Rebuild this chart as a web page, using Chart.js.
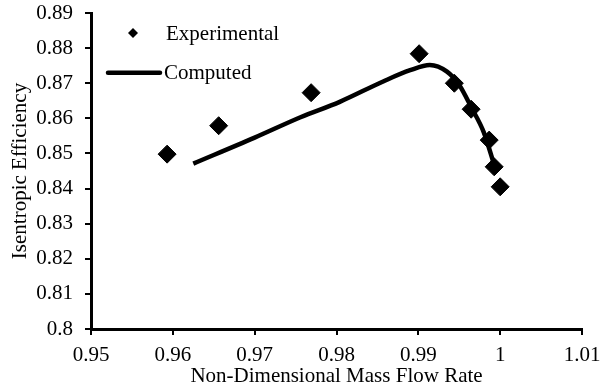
<!DOCTYPE html>
<html>
<head>
<meta charset="utf-8">
<script src="https://cdn.jsdelivr.net/npm/chart.js@4.4.0/dist/chart.umd.min.js"></script>
<style>
html,body{margin:0;padding:0;background:#fff;}
#wrap{width:607px;height:389px;position:relative;}
</style>
</head>
<body>
<div id="wrap"><canvas id="c" width="607" height="389"></canvas></div>
<script>
// Experimental data
const expX = [0.9593, 0.9656, 0.9769, 0.9901, 0.9944, 0.99645, 0.99866, 0.99927, 1.0000];
const expY = [0.8498, 0.8579, 0.8673, 0.8784, 0.8700, 0.8626, 0.8538, 0.8462, 0.8405];
// Computed curve
const compX = [0.9625, 0.9700, 0.9756, 0.9804, 0.9857, 0.9890, 0.9914, 0.9935, 0.9950, 0.9965, 0.9980, 0.9993];
const compY = [0.8471, 0.8545, 0.8603, 0.8647, 0.8705, 0.8737, 0.8752, 0.8733, 0.8695, 0.8630, 0.8560, 0.8465];
// Tick labels
const xTickValues = [0.95, 0.96, 0.97, 0.98, 0.99, 1.00, 1.01];
const xTickLabels = ["0.95", "0.96", "0.97", "0.98", "0.99", "1", "1.01"];
const yTickValues = [0.80, 0.81, 0.82, 0.83, 0.84, 0.85, 0.86, 0.87, 0.88, 0.89];
const yTickLabels = ["0.8", "0.81", "0.82", "0.83", "0.84", "0.85", "0.86", "0.87", "0.88", "0.89"];
const seriesNames = ["Experimental", "Computed"];

const FONT = "'Liberation Serif', 'Times New Roman', serif";

const legendPlugin = {
  id: 'insideLegend',
  afterDraw(chart) {
    const ctx = chart.ctx;
    ctx.save();
    ctx.fillStyle = '#000';
    ctx.strokeStyle = '#000';
    // diamond
    const dx = 133, dy = 33, r = 5;
    ctx.beginPath();
    ctx.moveTo(dx - r, dy); ctx.lineTo(dx, dy - r); ctx.lineTo(dx + r, dy); ctx.lineTo(dx, dy + r); ctx.closePath();
    ctx.fill();
    ctx.font = "21px " + FONT;
    ctx.textBaseline = 'middle';
    ctx.textAlign = 'left';
    ctx.fillText(seriesNames[0], 166, 34);
    // line
    ctx.lineWidth = 4.5;
    ctx.lineCap = 'round';
    ctx.beginPath();
    ctx.moveTo(108, 72.7); ctx.lineTo(160, 72.7);
    ctx.stroke();
    ctx.fillText(seriesNames[1], 164, 73);
    ctx.restore();
  }
};

new Chart(document.getElementById('c'), {
  type: 'scatter',
  data: {
    datasets: [
      {
        label: seriesNames[0],
        data: expX.map((x, i) => ({x: x, y: expY[i]})),
        pointStyle: 'rectRot',
        pointRadius: 9,
        pointBackgroundColor: '#000',
        pointBorderColor: '#000',
        pointBorderWidth: 1,
        showLine: false
      },
      {
        label: seriesNames[1],
        data: compX.map((x, i) => ({x: x, y: compY[i]})),
        showLine: true,
        borderColor: '#000',
        borderWidth: 4.5,
        pointRadius: 0,
        cubicInterpolationMode: 'monotone',
        fill: false
      }
    ]
  },
  options: {
    responsive: false,
    animation: false,
    devicePixelRatio: 1,
    layout: { padding: { left: 0, right: 25, top: 13, bottom: 0 } },
    plugins: { legend: { display: false }, tooltip: { enabled: false } },
    scales: {
      x: {
        type: 'linear',
        min: 0.95, max: 1.01,
        afterBuildTicks: s => { s.ticks = xTickValues.map(v => ({value: v})); },
        afterFit: s => { s.height = 60; s.paddingLeft = 0; s.paddingRight = 0; },
        grid: { display: true, drawOnChartArea: false, drawTicks: true, tickLength: 6, color: '#000', lineWidth: 2 },
        border: { display: true, color: '#000', width: 3 },
        ticks: {
          color: '#000', font: { family: FONT, size: 21 }, padding: 8, maxRotation: 0,
          callback: (v, i) => xTickLabels[i]
        },
        title: { display: true, text: 'Non-Dimensional Mass Flow Rate', color: '#000', font: { family: FONT, size: 21 }, padding: { top: 0, bottom: 0 } }
      },
      y: {
        type: 'linear',
        min: 0.8, max: 0.89,
        afterBuildTicks: s => { s.ticks = yTickValues.map(v => ({value: v})); },
        afterFit: s => { s.width = 91; s.paddingTop = 0; s.paddingBottom = 0; },
        grid: { display: true, drawOnChartArea: false, drawTicks: true, tickLength: 6, color: '#000', lineWidth: 2 },
        border: { display: true, color: '#000', width: 3 },
        ticks: {
          color: '#000', font: { family: FONT, size: 21 }, padding: 12,
          callback: (v, i) => yTickLabels[i]
        },
        title: { display: true, text: 'Isentropic Efficiency', color: '#000', font: { family: FONT, size: 21 }, padding: { top: 8, bottom: 0 } }
      }
    }
  },
  plugins: [legendPlugin]
});
</script>
</body>
</html>
